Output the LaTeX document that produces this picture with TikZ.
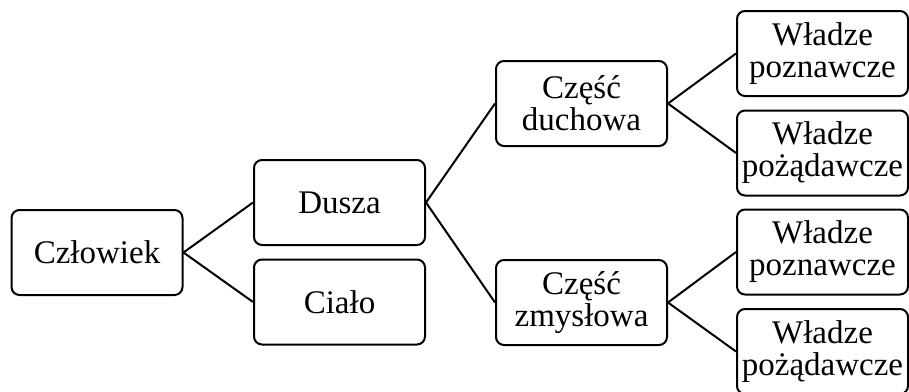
\documentclass[tikz,border=0pt]{standalone}
\usepackage{fontspec}
\setmainfont{Liberation Serif}
\begin{document}
\begin{tikzpicture}[x=1pt,y=-1pt,
  box/.style={draw=black, line width=2pt, rounded corners=8pt, fill=white,
    minimum width=171pt, minimum height=85pt, inner sep=2pt, align=center,
    font=\fontsize{33}{32}\selectfont, text=black},
  link/.style={draw=black, line width=2pt}]
\useasboundingbox (0,0) rectangle (909,391);
\node[box] (czl) at (97,252.5) {Człowiek};
\node[box] (dusza) at (339.5,202.5) {Dusza};
\node[box] (cialo) at (339.5,302) {Ciało};
\node[box] (duch) at (581.5,103.5) {Część\\duchowa};
\node[box] (zmysl) at (581.5,302.5) {Część\\zmysłowa};
\node[box] (wp1) at (822.5,53.5) {Władze\\poznawcze};
\node[box] (wz1) at (822.5,153) {Władze\\pożądawcze};
\node[box] (wp2) at (822.5,252) {Władze\\poznawcze};
\node[box] (wz2) at (822.5,351.5) {Władze\\pożądawcze};
\draw[link] (czl.east) -- (dusza.west);
\draw[link] (czl.east) -- (cialo.west);
\draw[link] (dusza.east) -- (duch.west);
\draw[link] (dusza.east) -- (zmysl.west);
\draw[link] (duch.east) -- (wp1.west);
\draw[link] (duch.east) -- (wz1.west);
\draw[link] (zmysl.east) -- (wp2.west);
\draw[link] (zmysl.east) -- (wz2.west);
\end{tikzpicture}
\end{document}
